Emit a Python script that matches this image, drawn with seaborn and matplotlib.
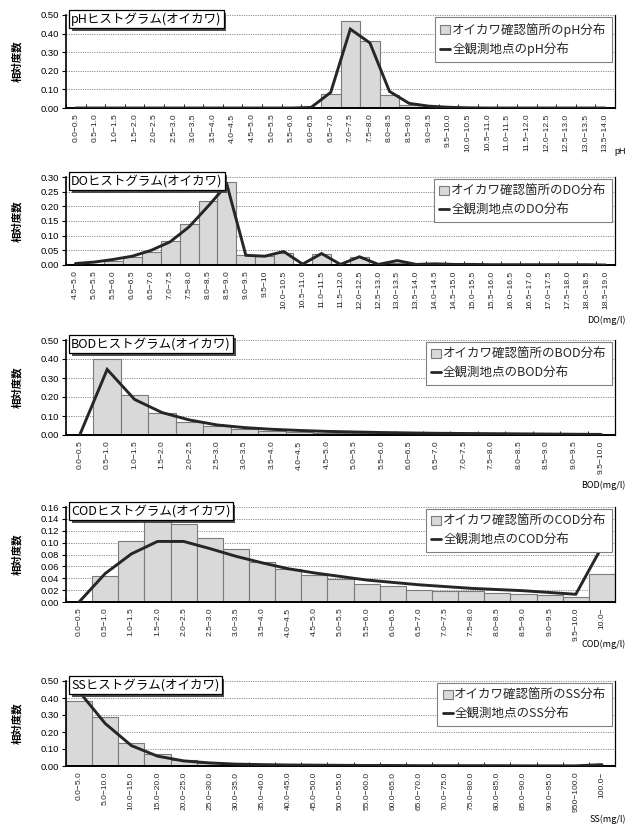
import numpy as np
import pandas as pd
import matplotlib
matplotlib.use("Agg")
import matplotlib.pyplot as plt
import matplotlib.patheffects as pe
from matplotlib.patches import Patch
from matplotlib.lines import Line2D
from matplotlib.ticker import FormatStrFormatter
import seaborn as sns

sns.set_theme(style="white")
plt.rcParams['font.family'] = ['Noto Sans CJK JP', 'DejaVu Sans']

# ---------------- data ----------------
ph_cats = ["0.0−0.5", "0.5−1.0", "1.0−1.5", "1.5−2.0", "2.0−2.5", "2.5−3.0", "3.0−3.5",
           "3.5−4.0", "4.0−4.5", "4.5−5.0", "5.0−5.5", "5.5−6.0", "6.0−6.5", "6.5−7.0",
           "7.0−7.5", "7.5−8.0", "8.0−8.5", "8.5−9.0", "9.0−9.5", "9.5−10.0", "10.0−10.5",
           "10.5−11.0", "11.0−11.5", "11.5−12.0", "12.0−12.5", "12.5−13.0", "13.0−13.5",
           "13.5−14.0"]
ph_site = [0, 0, 0, 0, 0, 0, 0, 0, 0, 0, 0, 0, 0.001, 0.074, 0.466, 0.362, 0.068, 0.016,
           0.006, 0, 0, 0, 0, 0, 0, 0, 0, 0]
ph_all = [0, 0, 0, 0, 0, 0, 0, 0, 0, 0, 0, 0, 0.003, 0.084, 0.424, 0.350, 0.089, 0.025,
          0.010, 0.004, 0.001, 0, 0, 0, 0, 0, 0, 0]

do_cats = ["4.5−5.0", "5.0−5.5", "5.5−6.0", "6.0−6.5", "6.5−7.0", "7.0−7.5", "7.5−8.0",
           "8.0−8.5", "8.5−9.0", "9.0−9.5", "9.5−10", "10.0−10.5", "10.5−11.0", "11.0−11.5",
           "11.5−12.0", "12.0−12.5", "12.5−13.0", "13.0−13.5", "13.5−14.0", "14.0−14.5",
           "14.5−15.0", "15.0−15.5", "15.5−16.0", "16.0−16.5", "16.5−17.0", "17.0−17.5",
           "17.5−18.0", "18.0−18.5", "18.5−19.0"]
do_site = [0.002, 0.005, 0.013, 0.026, 0.044, 0.081, 0.141, 0.217, 0.284, 0.033, 0.030,
           0.041, 0.005, 0.037, 0.003, 0.027, 0.003, 0.008, 0.002, 0.003, 0.001, 0.002,
           0.0, 0.002, 0.0, 0.001, 0.0, 0.002, 0.0]
do_all = [0.005, 0.010, 0.019, 0.030, 0.050, 0.079, 0.130, 0.200, 0.274, 0.033, 0.030,
          0.046, 0.003, 0.039, 0.002, 0.028, 0.002, 0.015, 0.002, 0.004, 0.002, 0.002,
          0.001, 0.001, 0.001, 0.001, 0.001, 0.001, 0.0]

bod_cats = ["0.0−0.5", "0.5−1.0", "1.0−1.5", "1.5−2.0", "2.0−2.5", "2.5−3.0", "3.0−3.5",
            "3.5−4.0", "4.0−4.5", "4.5−5.0", "5.0−5.5", "5.5−6.0", "6.0−6.5", "6.5−7.0",
            "7.0−7.5", "7.5−8.0", "8.0−8.5", "8.5−9.0", "9.0−9.5", "9.5−10.0"]
bod_site = [0.0, 0.400, 0.211, 0.118, 0.071, 0.045, 0.029, 0.022, 0.016, 0.013, 0.010,
            0.008, 0.005, 0.004, 0.003, 0.002, 0.002, 0.001, 0.001, 0.001]
bod_all = [0.0, 0.345, 0.187, 0.118, 0.079, 0.053, 0.039, 0.030, 0.024, 0.019, 0.016,
           0.013, 0.011, 0.009, 0.008, 0.007, 0.006, 0.005, 0.004, 0.003]

cod_cats = ["0.0−0.5", "0.5−1.0", "1.0−1.5", "1.5−2.0", "2.0−2.5", "2.5−3.0", "3.0−3.5",
            "3.5−4.0", "4.0−4.5", "4.5−5.0", "5.0−5.5", "5.5−6.0", "6.0−6.5", "6.5−7.0",
            "7.0−7.5", "7.5−8.0", "8.0−8.5", "8.5−9.0", "9.0−9.5", "9.5−10.0", "10.0−"]
cod_site = [0.0, 0.043, 0.102, 0.138, 0.132, 0.108, 0.090, 0.067, 0.056, 0.046, 0.038,
            0.030, 0.027, 0.021, 0.018, 0.018, 0.015, 0.013, 0.011, 0.008, 0.048]
cod_all = [0.0, 0.048, 0.081, 0.102, 0.102, 0.090, 0.077, 0.066, 0.056, 0.049, 0.043,
           0.037, 0.033, 0.029, 0.026, 0.023, 0.021, 0.019, 0.016, 0.013, 0.093]

ss_cats = ["0.0−5.0", "5.0−10.0", "10.0−15.0", "15.0−20.0", "20.0−25.0", "25.0−30.0",
           "30.0−35.0", "35.0−40.0", "40.0−45.0", "45.0−50.0", "50.0−55.0", "55.0−60.0",
           "60.0−65.0", "65.0−70.0", "70.0−75.0", "75.0−80.0", "80.0−85.0", "85.0−90.0",
           "90.0−95.0", "950−100.0", "100.0−"]
ss_site = [0.380, 0.289, 0.135, 0.068, 0.035, 0.018, 0.010, 0.007, 0.005, 0.004, 0.003,
           0.003, 0.002, 0.002, 0.002, 0.001, 0.001, 0.001, 0.001, 0.001, 0.006]
ss_all = [0.438, 0.250, 0.120, 0.058, 0.030, 0.018, 0.011, 0.008, 0.006, 0.005, 0.004,
          0.003, 0.003, 0.002, 0.002, 0.002, 0.002, 0.001, 0.001, 0.001, 0.008]

params = ["pH", "DO", "BOD", "COD", "SS"]
units = ["pH", "DO(mg/l)", "BOD(mg/l)", "COD(mg/l)", "SS(mg/l)"]
y_max = [0.50, 0.30, 0.50, 0.16, 0.50]
y_step = [0.10, 0.05, 0.10, 0.02, 0.10]
cats_all = [ph_cats, do_cats, bod_cats, cod_cats, ss_cats]
site_all = [ph_site, do_site, bod_site, cod_site, ss_site]
line_all = [ph_all, do_all, bod_all, cod_all, ss_all]

# ---------------- layout (pixels) ----------------
W, H = 634, 827
ax_left, ax_right = 66, 615
ax_tops = [15, 177, 340, 507, 681]
ax_bots = [108, 265, 435, 602, 766]
unit_y = [152, 320, 485, 644, 819]

BAR_FC = "#d9d9d9"
BAR_EC = "#7a7a7a"
LINE_C = "#262626"
NUM_FONT = ["Liberation Sans", "DejaVu Sans"]

fig = plt.figure(figsize=(W / 100, H / 100), dpi=100)

for i, prm in enumerate(params):
    top, bot = ax_tops[i], ax_bots[i]
    ax = fig.add_axes([ax_left / W, 1 - bot / H, (ax_right - ax_left) / W, (bot - top) / H])
    cats = cats_all[i]
    n = len(cats)
    df = pd.DataFrame({"cat": cats, "site": site_all[i], "all": line_all[i]})

    sns.barplot(data=df, x="cat", y="site", width=1.0, color=BAR_FC, saturation=1,
                edgecolor=BAR_EC, linewidth=0.8, ax=ax, zorder=2)
    ax.plot(np.arange(n), df["all"].to_numpy(), color=LINE_C, lw=2.1, zorder=3,
            solid_joinstyle="miter")

    ax.set_xlim(-0.5, n - 0.5)
    ax.set_ylim(0, y_max[i])
    ax.set_xlabel("")
    ax.set_ylabel("")

    yt = np.round(np.arange(0, y_max[i] + 1e-9, y_step[i]), 3)
    ax.set_yticks(yt)
    ax.yaxis.set_major_formatter(FormatStrFormatter("%.2f"))
    ax.tick_params(axis="y", length=3, width=0.8, direction="out", pad=2, labelsize=6.8,
                   colors="black", left=True)
    for lab in ax.get_yticklabels():
        lab.set_family(NUM_FONT)

    ax.set_xticks(np.arange(n))
    ax.set_xticklabels(cats, rotation=90, fontsize=6.1, family=NUM_FONT)
    ax.tick_params(axis="x", which="major", length=0, pad=4)
    ax.set_xticks(np.arange(n + 1) - 0.5, minor=True)
    ax.tick_params(axis="x", which="minor", length=3, width=0.6, direction="in",
                   color="black", bottom=True)

    ax.yaxis.grid(True, color="#8c8c8c", linestyle=(0, (1.2, 1.2)), linewidth=0.7)
    ax.xaxis.grid(False)
    ax.set_axisbelow(True)

    ax.spines["top"].set_visible(False)
    ax.spines["left"].set_color("black")
    ax.spines["left"].set_linewidth(1.2)
    ax.spines["bottom"].set_color("black")
    ax.spines["bottom"].set_linewidth(1.4)
    ax.spines["right"].set_color("black")
    ax.spines["right"].set_linewidth(0.9)

    handles = [Patch(facecolor=BAR_FC, edgecolor=BAR_EC, linewidth=0.8),
               Line2D([0], [0], color=LINE_C, lw=2.0)]
    labels = [f"オイカワ確認箇所の{prm}分布", f"全観測地点の{prm}分布"]
    leg = ax.legend(handles, labels, loc="upper right", bbox_to_anchor=(0.995, 0.975),
                    borderaxespad=0, frameon=True, fancybox=False, framealpha=1,
                    edgecolor="#808080", fontsize=9, handlelength=0.8, handleheight=0.8,
                    handletextpad=0.15, labelspacing=0.45, borderpad=0.45)
    leg.get_frame().set_linewidth(0.8)
    leg.set_zorder(5)

    # title box with shadow
    t = fig.text((ax_left + 5) / W, 1 - (top + 4) / H, f"{prm}ヒストグラム(オイカワ)",
                 ha="left", va="center", fontsize=9, color="black", zorder=10,
                 bbox=dict(boxstyle="square,pad=0.18", facecolor="white",
                           edgecolor="black", linewidth=0.9))
    t.get_bbox_patch().set_path_effects(
        [pe.withSimplePatchShadow(offset=(2, -2), shadow_rgbFace="#3a3a3a", alpha=0.9)])

    # y label
    fig.text(17 / W, 1 - ((top + bot) / 2) / H, "相対度数", rotation=90, ha="center",
             va="center", fontsize=7.5, color="black", fontweight="bold")
    # unit label
    fig.text(626 / W, 1 - unit_y[i] / H, units[i], ha="right", va="center",
             fontsize=6.5, color="black", family=NUM_FONT if i == 0 else None)

fig.savefig("out.png", dpi=100, facecolor="white")
